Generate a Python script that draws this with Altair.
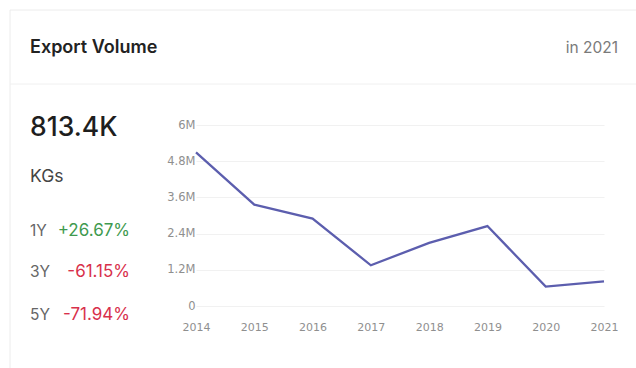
import altair as alt
import pandas as pd

years = ["2014", "2015", "2016", "2017", "2018", "2019", "2020", "2021"]
volumes = [5090000, 3360000, 2899000, 1350000, 2094000, 2650000, 642000, 813400]

title_text = "Export Volume"
period_text = "in 2021"
headline = "813.4K"
unit = "KGs"
stat_periods = ["1Y", "3Y", "5Y"]
stat_changes = ["+26.67%", "-61.15%", "-71.94%"]
stat_colors = ["#3f9a4f", "#d8304b", "#d8304b"]

OX, OY = 196, 125  # plot origin in page pixels
W, H = 408, 181
FONT = "Inter"

df = pd.DataFrame({"year": years, "volume": volumes})

base = alt.Chart(df)
line = base.mark_line(color="#5c5eae", strokeWidth=2.3).encode(
    x=alt.X("year:O", scale=alt.Scale(type="point", padding=0),
            axis=alt.Axis(title=None, labelAngle=0, ticks=False, domain=False,
                          labelFont="DejaVu Sans", labelFontSize=11,
                          labelColor="#8f8f8f", labelPadding=15, grid=False)),
    y=alt.Y("volume:Q", scale=alt.Scale(domain=[0, 6000000]),
            axis=alt.Axis(title=None, values=[0, 1200000, 2400000, 3600000, 4800000, 6000000],
                          labelExpr="datum.value == 0 ? '0' : format(datum.value/1e6, '.2~f') + 'M'",
                          ticks=False, domain=False, labelPadding=1,
                          labelFont="DejaVu Sans", labelFontSize=11.5,
                          labelColor="#8f8f8f", gridColor="#f1f1f1", gridWidth=1)),
)

def px(x):
    return x - OX

def py(y):
    return y - OY

def txt(s, x, y, size, color, weight="normal", align="left"):
    return alt.Chart(pd.DataFrame({"t": [s]})).mark_text(
        align=align, baseline="middle", font=FONT, fontSize=size,
        fontWeight=weight, color=color
    ).encode(x=alt.value(px(x)), y=alt.value(py(y)), text="t:N")

one = pd.DataFrame({"k": [0]})
def rule(x1, y1, x2, y2, color="#ececec"):
    return alt.Chart(one).mark_rule(color=color, strokeWidth=1).encode(
        x=alt.value(px(x1)), x2=alt.value(px(x2)),
        y=alt.value(py(y1)), y2=alt.value(py(y2)))

layers = [
    rule(10, 10, 700, 10),
    rule(10, 10, 10, 400),
    rule(10, 84, 700, 84, "#f0f0f0"),
    txt(title_text, 30, 48, 18, "#222222", 600),
    txt(period_text, 618, 48, 15.5, "#7a7a7a", align="right"),
    txt(headline, 30, 128, 26.5, "#1e1e1e", 500),
    txt(unit, 30, 177, 17.5, "#444444"),
]
ys = [231, 272, 315]
for p, c, col, yy in zip(stat_periods, stat_changes, stat_colors, ys):
    layers.append(txt(p, 30, yy, 15.5, "#666666"))
    layers.append(txt(c, 130, yy, 17, col, align="right"))

chart = alt.layer(line, *layers).properties(
    width=W, height=H,
    autosize=alt.AutoSizeParams(type="none"),
    padding={"left": OX, "top": OY, "right": 636 - OX - W, "bottom": 368 - OY - H},
    background="white",
).configure_view(stroke=None)

chart.save("out.html", embed_options={"renderer": "svg", "actions": False})
